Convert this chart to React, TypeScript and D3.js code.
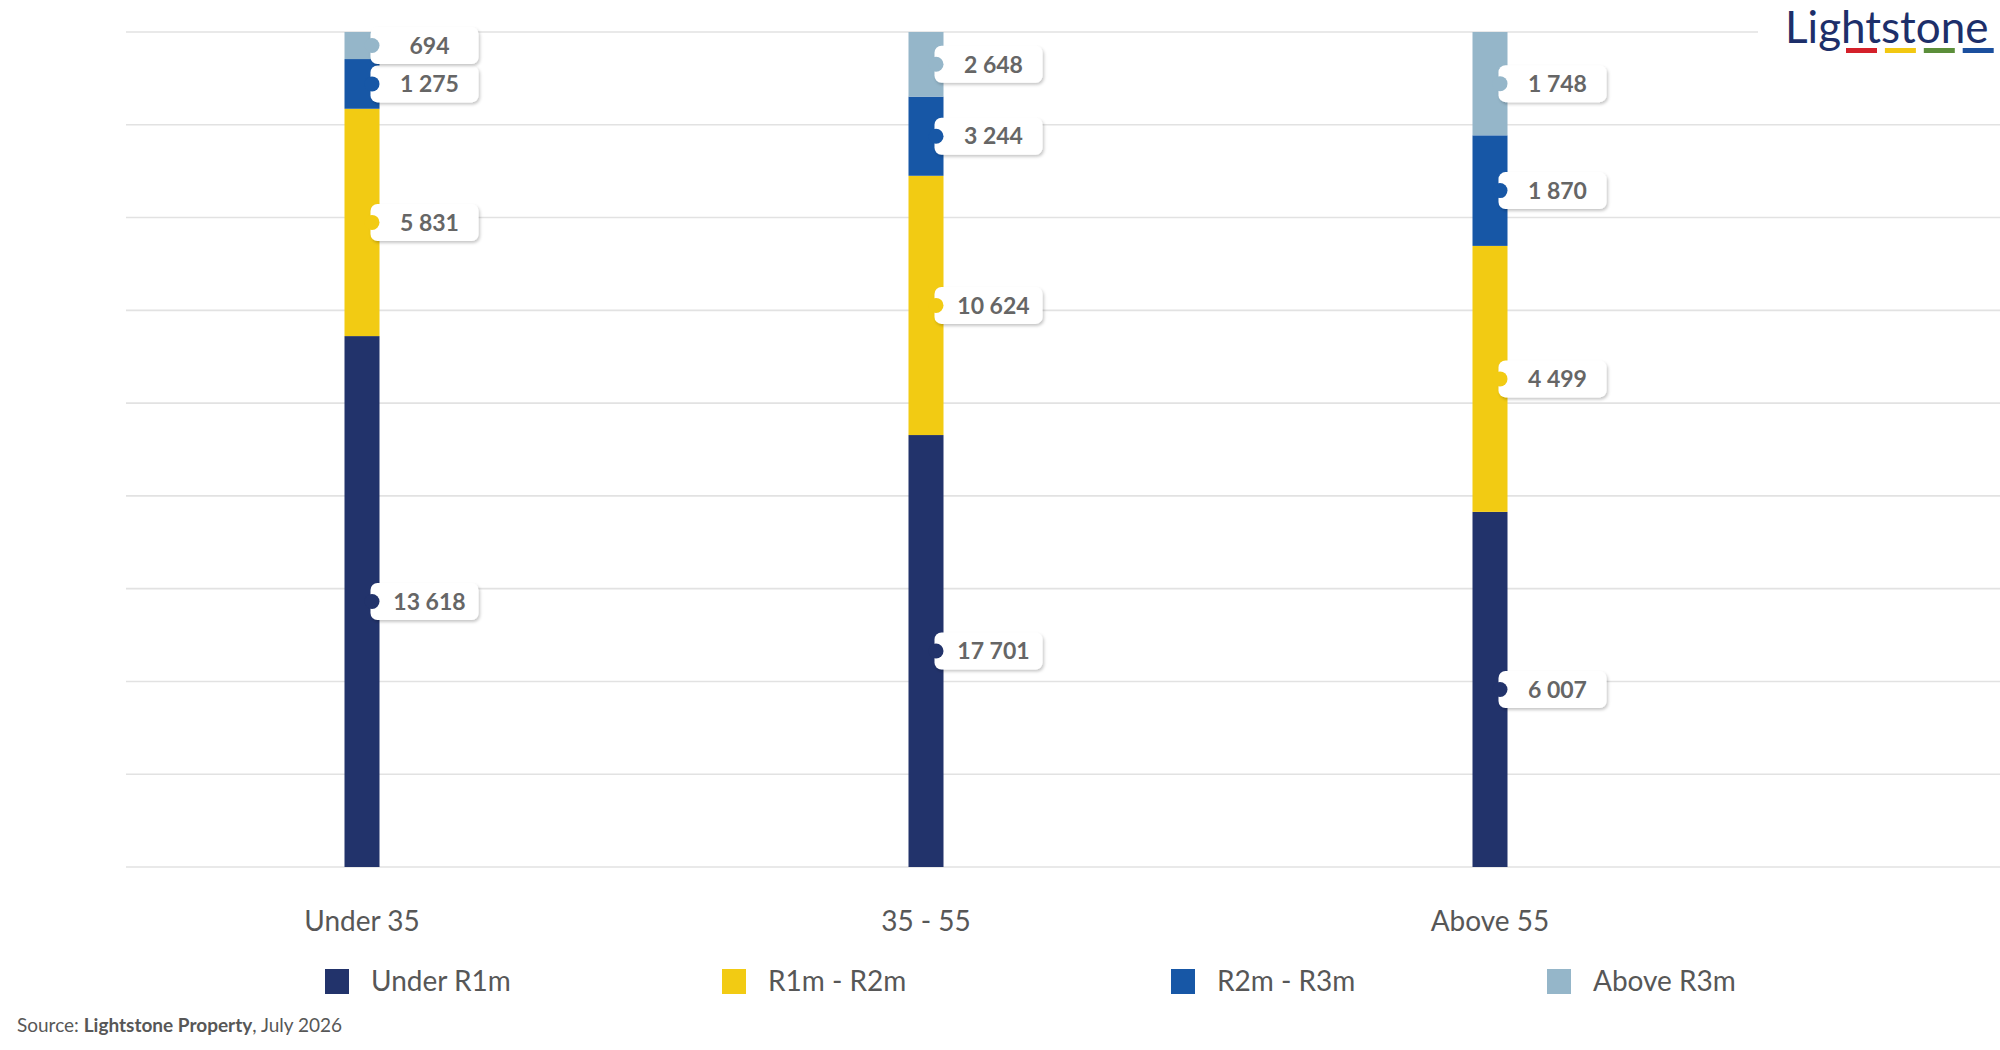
import * as d3 from 'd3'

const categories = ['Under 35', '35 - 55', 'Above 55']
const seriesNames = ['Under R1m', 'R1m - R2m', 'R2m - R3m', 'Above R3m']
const underR1m = [13618, 17701, 6007]
const r1mToR2m = [5831, 10624, 4499]
const r2mToR3m = [1275, 3244, 1870]
const aboveR3m = [694, 2648, 1748]
const seriesColors = ['#22336b', '#f2cb13', '#1757a6', '#95b6c9']

// legend item left edges, as laid out in the original
const legendX = [325, 722, 1171, 1547]

const W = 2000
const H = 1050
const FONT = 'Lato, "Open Sans", sans-serif'
const TEXT = '#575757'

const fmt = d3.formatLocale({ decimal: '.', thousands: ' ', grouping: [3], currency: ['', ''] }).format(',')

export default function App() {
  const rows = categories.map((c, i) => ({
    cat: c,
    [seriesNames[0]]: underR1m[i],
    [seriesNames[1]]: r1mToR2m[i],
    [seriesNames[2]]: r2mToR3m[i],
    [seriesNames[3]]: aboveR3m[i],
  }))
  const stacked = d3.stack<any>().keys(seriesNames).offset(d3.stackOffsetExpand)(rows)

  const x = d3.scaleBand().domain(categories).range([80, 1772]).padding(0)
  const y = d3.scaleLinear().domain([0, 1]).range([867, 32])
  const gridTicks = d3.range(10).map(i => i / 9)
  const barW = 35

  const boxW = 108
  const boxH = 37

  return (
    <svg width={W} height={H} style={{ position: 'absolute', left: 0, top: 0, background: '#fff' }}>
      <defs>
        <filter id="lblShadow" x="-20%" y="-30%" width="150%" height="180%">
          <feDropShadow dx="1.5" dy="2" stdDeviation="1.6" floodColor="#000" floodOpacity="0.22" />
        </filter>
      </defs>
      <rect width={W} height={H} fill="#fff" />

      {/* grid */}
      {gridTicks.map((t, i) => (
        <line key={i} x1={126} x2={W} y1={y(t)} y2={y(t)} stroke="#e2e2e2" strokeWidth={1.6} />
      ))}

      {/* bars */}
      {stacked.map((s, si) =>
        s.map((d, ci) => {
          const cx = x(categories[ci])! + x.bandwidth() / 2
          return (
            <rect
              key={`${si}-${ci}`}
              x={cx - barW / 2}
              y={y(d[1])}
              width={barW}
              height={y(d[0]) - y(d[1])}
              fill={seriesColors[si]}
            />
          )
        })
      )}

      {/* data labels */}
      {stacked.map((s, si) =>
        s.map((d, ci) => {
          const cx = x(categories[ci])! + x.bandwidth() / 2
          const barRight = cx + barW / 2
          const left = barRight - 9
          const cy = y((d[0] + d[1]) / 2)
          const v = (d.data as any)[seriesNames[si]] as number
          return (
            <g key={`l${si}-${ci}`}>
              <rect x={left} y={cy - boxH / 2} width={boxW} height={boxH} rx={7} fill="#fff" filter="url(#lblShadow)" />
              <circle cx={left + 1.5} cy={cy} r={7.5} fill={seriesColors[si]} />
              <text
                x={left + boxW / 2 + 5}
                y={cy}
                dy="0.36em"
                textAnchor="middle"
                fontFamily={FONT}
                fontSize={23}
                fontWeight={700}
                fill="#666"
              >
                {fmt(v)}
              </text>
            </g>
          )
        })
      )}

      {/* category labels */}
      {categories.map(c => (
        <text
          key={c}
          x={x(c)! + x.bandwidth() / 2}
          y={931}
          textAnchor="middle"
          fontFamily={FONT}
          fontSize={28}
          fill={TEXT}
        >
          {c}
        </text>
      ))}

      {/* legend */}
      {seriesNames.map((n, i) => (
        <g key={n} transform={`translate(${legendX[i]},969)`}>
          <rect width={24} height={25} fill={seriesColors[i]} />
          <text x={46} y={22} fontFamily={FONT} fontSize={28} fill={TEXT}>
            {n}
          </text>
        </g>
      ))}

      {/* source */}
      <text x={17} y={1032} fontFamily={FONT} fontSize={19} fill={TEXT}>
        Source: <tspan fontWeight={700}>Lightstone Property</tspan>, July 2026
      </text>

      {/* logo */}
      <g>
        <rect x={1758} y={0} width={242} height={62} fill="#fff" />
        <text x={1785} y={43} fontFamily={FONT} fontSize={44} fill="#1d2f6a">
          Lightstone
        </text>
        {['#d4202a', '#f2c811', '#5b8e3a', '#1b4f9e'].map((c, i) => (
          <rect key={c} x={1846 + i * 38.9} y={48} width={31} height={5} fill={c} />
        ))}
      </g>
    </svg>
  )
}
